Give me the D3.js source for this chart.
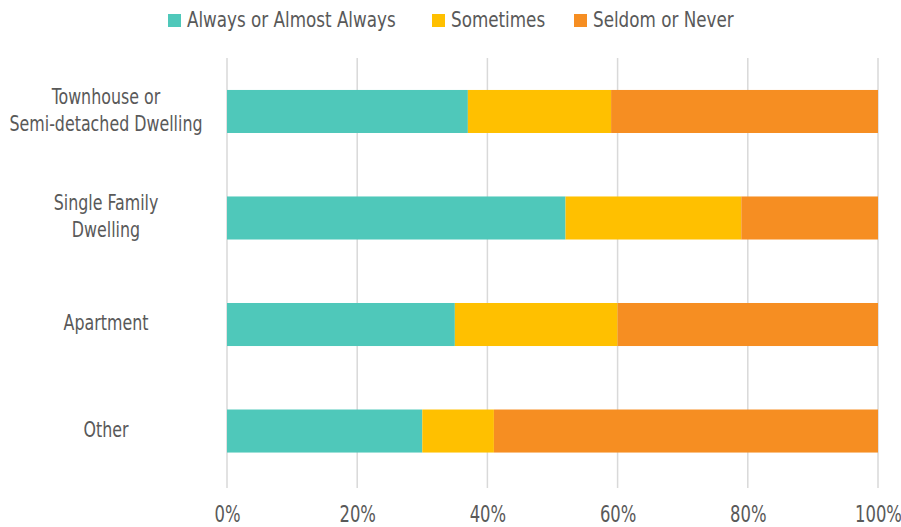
<!DOCTYPE html>
<html>
<head>
<meta charset="utf-8">
<script src="https://cdn.jsdelivr.net/npm/d3@7"></script>
<style>
  body { margin: 0; background: #fff; }
  text { font-family: "Liberation Sans Narrow", "DejaVu Sans Condensed", "Roboto", sans-serif; fill: #595959; }
</style>
</head>
<body>
<svg width="901" height="527"></svg>
<script>
// categories, top to bottom
var categories = [
  ["Townhouse or", "Semi-detached Dwelling"],
  ["Single Family", "Dwelling"],
  ["Apartment"],
  ["Other"]
];
var seriesNames = ["Always or Almost Always", "Sometimes", "Seldom or Never"];
var seriesColors = ["#4fc8ba", "#ffc000", "#f68e22"];

// percentages per category
var always    = [37, 52, 35, 30];
var sometimes = [22, 27, 25, 11];
var seldom    = [41, 21, 40, 59];

var tickValues = [0, 20, 40, 60, 80, 100];

// the reference font is narrow, so squeeze the text horizontally
var squeeze = "scale(0.86,1)";

var svg = d3.select("svg");

var x = d3.scaleLinear()
    .domain([0, 100])
    .range([227, 878]);

var y = d3.scaleBand()
    .domain(d3.range(categories.length))
    .range([58, 484.5])
    .paddingInner(0.596)
    .paddingOuter(0.3);

// gridlines
svg.append("g")
    .attr("class", "grid")
  .selectAll("line")
  .data(tickValues)
  .enter().append("line")
    .attr("x1", function(d) { return x(d); })
    .attr("x2", function(d) { return x(d); })
    .attr("y1", 58)
    .attr("y2", 488)
    .attr("stroke", "#d9d9d9")
    .attr("stroke-width", 1.5);

// stack the series
var rows = categories.map(function(c, i) {
  return { i: i, a: always[i], s: sometimes[i], n: seldom[i] };
});
var stack = d3.stack().keys(["a", "s", "n"]);
var layers = stack(rows);

svg.append("g")
    .attr("class", "bars")
  .selectAll("g")
  .data(layers)
  .enter().append("g")
    .attr("fill", function(d, i) { return seriesColors[i]; })
  .selectAll("rect")
  .data(function(d) { return d; })
  .enter().append("rect")
    .attr("x", function(d) { return x(d[0]); })
    .attr("width", function(d) { return x(d[1]) - x(d[0]); })
    .attr("y", function(d) { return y(d.data.i); })
    .attr("height", y.bandwidth());

// x axis labels
var xAxis = svg.append("g")
    .attr("transform", "translate(0,514.5)")
    .call(d3.axisBottom(x)
      .tickValues(tickValues)
      .tickSize(0)
      .tickPadding(0)
      .tickFormat(function(d) { return d + "%"; }));
xAxis.select(".domain").remove();
xAxis.selectAll("text")
    .attr("dy", "0.35em")
    .attr("y", 0)
    .attr("transform", "scale(0.81,1)")
    .style("font-size", "22.5px")
    .attr("fill", "#595959");

// category labels
var lineH = 27;
svg.append("g")
    .attr("class", "cats")
  .selectAll("text")
  .data(categories)
  .enter().append("text")
    .attr("text-anchor", "middle")
    .attr("transform", "translate(106,0) " + squeeze)
    .style("font-size", "20.5px")
    .each(function(lines, i) {
      var cy = y(i) + y.bandwidth() / 2 - 1.5;
      var y0 = cy - (lines.length - 1) * lineH / 2;
      d3.select(this).selectAll("tspan")
        .data(lines)
        .enter().append("tspan")
          .attr("x", 0)
          .attr("y", function(d, j) { return y0 + j * lineH; })
          .attr("dy", "0.35em")
          .text(function(d) { return d; });
    });

// legend
var legendX = [168, 432, 574];
var legend = svg.append("g").attr("class", "legend")
  .selectAll("g")
  .data(seriesNames)
  .enter().append("g")
    .attr("transform", function(d, i) { return "translate(" + legendX[i] + ",20.5)"; });
legend.append("rect")
    .attr("x", 0)
    .attr("y", -6.5)
    .attr("width", 13)
    .attr("height", 13)
    .attr("fill", function(d, i) { return seriesColors[i]; });
legend.append("text")
    .attr("transform", "translate(19,-1) scale(0.91,1)")
    .attr("dy", "0.35em")
    .style("font-size", "20.5px")
    .text(function(d) { return d; });
</script>
</body>
</html>
